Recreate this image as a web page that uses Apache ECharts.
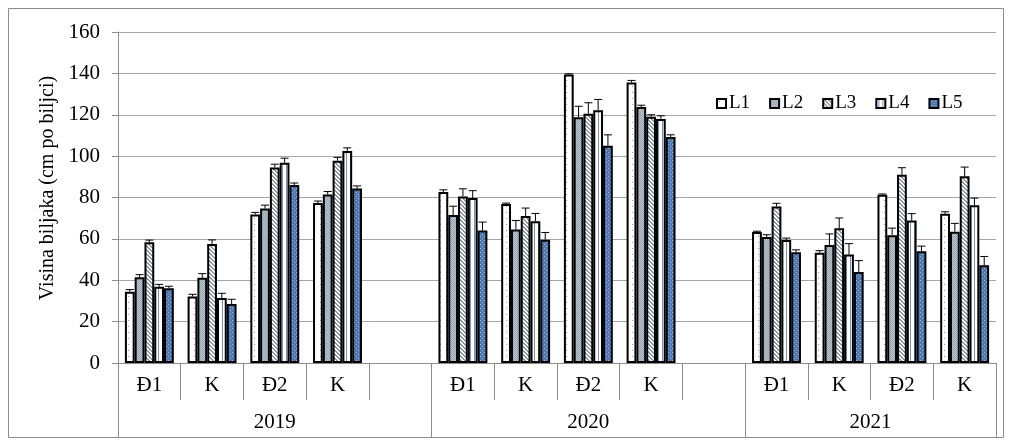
<!DOCTYPE html>
<html>
<head>
<meta charset="utf-8">
<script src="https://cdn.jsdelivr.net/npm/echarts@6/dist/echarts.min.js"></script>
<style>
  html, body { margin: 0; padding: 0; background: #fff; }
  #chart { width: 1011px; height: 445px; }
</style>
</head>
<body>
<div id="chart"></div>
<script>
// Plant height per treatment (L1–L5) for each site/year
const categories = ['Đ1', 'K', 'Đ2', 'K', '', 'Đ1', 'K', 'Đ2', 'K', '', 'Đ1', 'K', 'Đ2', 'K'];
const years = ['2019', '2020', '2021'];
const yearCenters = [2.5, 7.5, 12];
const yearBounds = [0, 5, 10, 14];
const seriesNames = ['L1', 'L2', 'L3', 'L4', 'L5'];

const L1 = [34.5, 32.2, 71.8, 77.3, '-', 82.7, 76.8, 139.4, 135.6, '-', 63.3, 53.3, 81.3, 72.1];
const L2 = [41.5, 41.2, 74.7, 81.4, '-', 71.5, 64.5, 118.8, 123.7, '-', 60.9, 57.0, 61.8, 63.5];
const L3 = [58.4, 57.5, 94.5, 97.8, '-', 80.5, 71.0, 120.5, 119.0, '-', 75.7, 65.1, 91.0, 90.3];
const L4 = [36.8, 31.4, 96.8, 102.5, '-', 79.7, 68.5, 122.2, 118.0, '-', 59.4, 52.4, 68.9, 76.2];
const L5 = [36.1, 28.5, 86.0, 84.3, '-', 64.0, 59.6, 105.0, 109.2, '-', 53.5, 44.0, 54.0, 47.3];

// standard errors (upper whisker)
const L1err = [1.0, 1.0, 1.0, 1.0, '-', 1.0, 0.5, 0.4, 1.0, '-', 0.4, 1.0, 0.4, 1.0];
const L2err = [1.2, 2.0, 1.6, 1.5, '-', 4.3, 4.4, 5.3, 0.9, '-', 1.1, 5.4, 3.4, 4.0];
const L3err = [1.0, 2.0, 1.6, 1.6, '-', 3.7, 3.9, 5.3, 1.0, '-', 1.5, 5.0, 3.4, 4.4];
const L4err = [1.2, 2.3, 2.2, 1.5, '-', 3.6, 3.8, 5.2, 1.5, '-', 1.0, 5.3, 3.3, 3.5];
const L5err = [1.0, 2.3, 1.0, 1.3, '-', 4.1, 3.5, 5.3, 1.1, '-', 1.2, 5.5, 2.5, 4.2];

const yTicks = [0, 20, 40, 60, 80, 100, 120, 140, 160];

const values = [L1, L2, L3, L4, L5];
const errors = [L1err, L2err, L3err, L4err, L5err];

const FONT = "'Liberation Serif', 'Times New Roman', serif";
const CAT_GAP = 0.22;
const AXIS_GRAY = '#8c8c8c';

// ---- fill patterns ----
function makeTile(w, h, draw) {
  const c = document.createElement('canvas');
  c.width = w; c.height = h;
  const ctx = c.getContext('2d');
  draw(ctx);
  return { image: c, repeat: 'repeat' };
}
const patterns = [
  // sparse dots on white
  makeTile(6, 6, ctx => {
    ctx.fillStyle = '#fff'; ctx.fillRect(0, 0, 6, 6);
    ctx.fillStyle = '#9a9a9a'; ctx.fillRect(2, 2, 1, 1);
  }),
  // fine checker, grey-blue
  makeTile(2, 2, ctx => {
    ctx.fillStyle = '#b9c6cf'; ctx.fillRect(0, 0, 2, 2);
    ctx.fillStyle = '#93a5b2'; ctx.fillRect(0, 0, 1, 1); ctx.fillRect(1, 1, 1, 1);
  }),
  // diagonal stripes
  makeTile(4, 4, ctx => {
    ctx.fillStyle = '#fff'; ctx.fillRect(0, 0, 4, 4);
    ctx.fillStyle = '#8797a6';
    for (let i = 0; i < 4; i++) { ctx.fillRect(i, i, 1, 1); ctx.fillRect((i + 1) % 4, i, 1, 1); }
  }),
  // vertical pinstripes
  makeTile(4, 4, ctx => {
    ctx.fillStyle = '#fff'; ctx.fillRect(0, 0, 4, 4);
    ctx.fillStyle = '#7394c8'; ctx.fillRect(2, 0, 1, 4);
  }),
  // dotted blue
  makeTile(4, 4, ctx => {
    ctx.fillStyle = '#4a79b4'; ctx.fillRect(0, 0, 4, 4);
    ctx.fillStyle = '#9dbbe0'; ctx.fillRect(0, 0, 1, 1); ctx.fillRect(2, 2, 1, 1);
  })
];

function errRender(sIdx) {
  return function (params, api) {
    const cat = api.value(0), v = api.value(1), e = api.value(2);
    const slot = api.size([1, 0])[0];
    const bw = slot * (1 - CAT_GAP) / 5;
    const x = api.coord([cat, v])[0] + (sIdx - 2) * bw;
    const y0 = api.coord([cat, v])[1];
    const y1 = api.coord([cat, v + e])[1];
    const hw = 4;
    return {
      type: 'group',
      children: [
        { type: 'line', shape: { x1: x, y1: y0, x2: x, y2: y1 }, style: { stroke: '#000', lineWidth: 1 } },
        { type: 'line', shape: { x1: x - hw, y1: y1, x2: x + hw, y2: y1 }, style: { stroke: '#000', lineWidth: 1 } }
      ]
    };
  };
}

const series = [];
seriesNames.forEach((name, i) => {
  series.push({
    name: name,
    type: 'bar',
    xAxisIndex: 0,
    data: values[i],
    barGap: '0%',
    barCategoryGap: (CAT_GAP * 100) + '%',
    itemStyle: { color: patterns[i], borderColor: '#000', borderWidth: 2 },
    emphasis: { disabled: true },
    z: 2
  });
});
seriesNames.forEach((name, i) => {
  const d = [];
  values[i].forEach((v, k) => { if (v !== '-') d.push([k, v, errors[i][k]]); });
  series.push({
    name: name + ' err',
    type: 'custom',
    xAxisIndex: 0,
    renderItem: errRender(i),
    encode: { x: 0, y: 1 },
    data: d,
    z: 5,
    silent: true
  });
});

const chart = echarts.init(document.getElementById('chart'), null, { renderer: 'canvas' });
chart.setOption({
  animation: false,
  backgroundColor: '#fff',
  textStyle: { fontFamily: FONT, color: '#000' },
  graphic: [{
    type: 'rect', z: -10, silent: true,
    shape: { x: 8.5, y: 8.5, width: 995, height: 429 },
    style: { fill: 'none', stroke: AXIS_GRAY, lineWidth: 1 }
  }],
  grid: { left: 118, right: 15, top: 32, bottom: 82, containLabel: false },
  legend: {
    data: seriesNames,
    left: 711, top: 89,
    icon: 'rect',
    itemWidth: 9, itemHeight: 9,
    itemGap: 19,
    textStyle: { fontFamily: FONT, fontSize: 19, color: '#000', padding: [0, 0, 0, -2] }
  },
  xAxis: [{
    type: 'category',
    data: categories,
    axisLine: { show: true, lineStyle: { color: AXIS_GRAY, width: 1 } },
    axisTick: { show: true, interval: 0, length: 37, alignWithLabel: false, lineStyle: { color: AXIS_GRAY } },
    axisLabel: { interval: 0, margin: 12, fontFamily: FONT, fontSize: 21, color: '#000' },
    splitLine: { show: false }
  }, {
    type: 'value',
    min: 0, max: 14,
    position: 'bottom',
    axisLine: { show: false },
    splitLine: { show: false },
    axisTick: { show: true, customValues: yearBounds, length: 75, lineStyle: { color: AXIS_GRAY } },
    axisLabel: {
      customValues: yearCenters,
      margin: 49, fontFamily: FONT, fontSize: 21, color: '#000',
      formatter: v => years[yearCenters.indexOf(v)] || ''
    }
  }],
  yAxis: {
    type: 'value',
    name: 'Visina biljaka (cm po biljci)',
    nameLocation: 'middle',
    nameGap: 56,
    nameRotate: 90,
    nameTextStyle: { fontFamily: FONT, fontSize: 20, color: '#000', padding: [0, 0, 0, 19] },
    min: yTicks[0], max: yTicks[yTicks.length - 1], interval: 20,
    axisLine: { show: true, lineStyle: { color: AXIS_GRAY, width: 1 } },
    axisTick: { show: true, length: 6, lineStyle: { color: AXIS_GRAY } },
    axisLabel: { margin: 18, fontFamily: FONT, fontSize: 21, color: '#000' },
    splitLine: { show: true, lineStyle: { color: '#a6a6a6', width: 1 } }
  },
  series: series
});
</script>
</body>
</html>
